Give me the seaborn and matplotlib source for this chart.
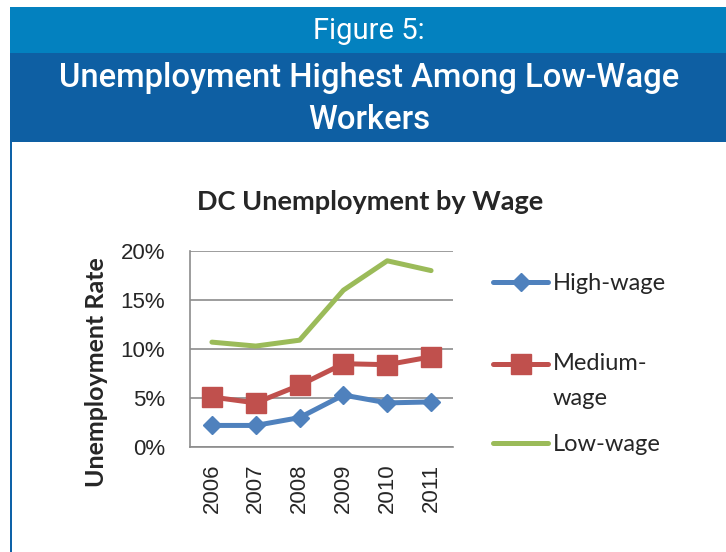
import pandas as pd
import seaborn as sns
import matplotlib.pyplot as plt
from matplotlib.patches import Rectangle
from matplotlib.ticker import PercentFormatter

years = [2006, 2007, 2008, 2009, 2010, 2011]
high_wage = [0.022, 0.022, 0.030, 0.053, 0.045, 0.046]
medium_wage = [0.051, 0.045, 0.063, 0.085, 0.084, 0.092]
low_wage = [0.107, 0.103, 0.109, 0.160, 0.190, 0.180]
series_names = ["High-wage", "Medium-wage", "Low-wage"]
# leading blank line keeps the marker level with "Medium-"
legend_labels = ["High-wage", "\nMedium-\nwage", "Low-wage"]
y_ticks = [0, 0.05, 0.10, 0.15, 0.20]

df = pd.DataFrame({
    "year": years * 3,
    "rate": high_wage + medium_wage + low_wage,
    "series": [s for s in series_names for _ in years],
})

sns.set_theme(style="white")
plt.rcParams["font.family"] = ["Liberation Sans", "DejaVu Sans"]

fig = plt.figure(figsize=(7.26, 5.52), dpi=100)
fig.patch.set_facecolor("white")

# header bands
fig.add_artist(Rectangle((10 / 726, 1 - 53 / 552), 1, 46 / 552, transform=fig.transFigure,
                         facecolor="#0381BF", edgecolor="none"))
fig.add_artist(Rectangle((10 / 726, 1 - 142 / 552), 1, 89 / 552, transform=fig.transFigure,
                         facecolor="#0E5FA3", edgecolor="none"))
fig.add_artist(Rectangle((10 / 726, 0), 2 / 726, 1 - 142 / 552, transform=fig.transFigure,
                         facecolor="#0E62A8", edgecolor="none"))
fig.text(0.508, 1 - 31 / 552, "Figure 5:", color="white", fontsize=21, family="Roboto",
         fontweight="normal", ha="center", va="center")
fig.text(0.508, 1 - 99 / 552, "Unemployment Highest Among Low-Wage\nWorkers", color="white",
         fontsize=23.6, family="Roboto", fontweight="medium", ha="center", va="center",
         linespacing=1.42)

ax = fig.add_axes([190 / 726, 1 - 447 / 552, 263 / 726, 196 / 552])

colors = ["#4F81BD", "#C0504D", "#9BBB59"]
markers = ["D", "s", None]
sizes = [9.5, 14, 0]
for name, c, m, ms in zip(series_names, colors, markers, sizes):
    sns.lineplot(data=df[df["series"] == name], x="year", y="rate", ax=ax, color=c,
                 linewidth=3.6, marker=m, markersize=ms, markeredgecolor=c,
                 markeredgewidth=1, label=name)

ax.set_xlim(2005.5, 2011.5)
ax.set_ylim(0, 0.20)
ax.set_xticks(years)
ax.set_xticklabels([str(y) for y in years], rotation=90, fontsize=16)
ax.set_yticks(y_ticks)
ax.yaxis.set_major_formatter(PercentFormatter(1.0, decimals=0))
ax.tick_params(axis="y", labelsize=16, pad=18, length=0)
ax.tick_params(axis="x", pad=12, length=0)
ax.grid(axis="y", color="#8C8C8C", linewidth=1.2)
ax.set_axisbelow(True)
for s in ["top", "right"]:
    ax.spines[s].set_visible(False)
for s in ["left", "bottom"]:
    ax.spines[s].set_color("#8C8C8C")
    ax.spines[s].set_linewidth(1.2)
ax.set_xlabel("")
ax.set_ylabel("")

fig.text(97 / 726, 1 - 372 / 552, "Unemployment Rate", rotation=90, fontsize=18,
         fontweight="bold", family="Lato", ha="center", va="center")
fig.text(370 / 726, 1 - 202 / 552, "DC Unemployment by Wage", fontsize=19.5,
         fontweight="bold", family="Lato", ha="center", va="center")

handles, _ = ax.get_legend_handles_labels()
leg = ax.legend(handles, legend_labels, loc="upper left",
                bbox_to_anchor=(493 / 726, 1 - 273 / 552),
                bbox_transform=fig.transFigure, frameon=False,
                prop={"family": "Lato", "size": 17},
                handlelength=2.35, handletextpad=0.17, labelspacing=1.05,
                borderpad=0, borderaxespad=0)
for t in leg.get_texts():
    t.set_linespacing(1.8)

fig.savefig("out.png", dpi=100)
